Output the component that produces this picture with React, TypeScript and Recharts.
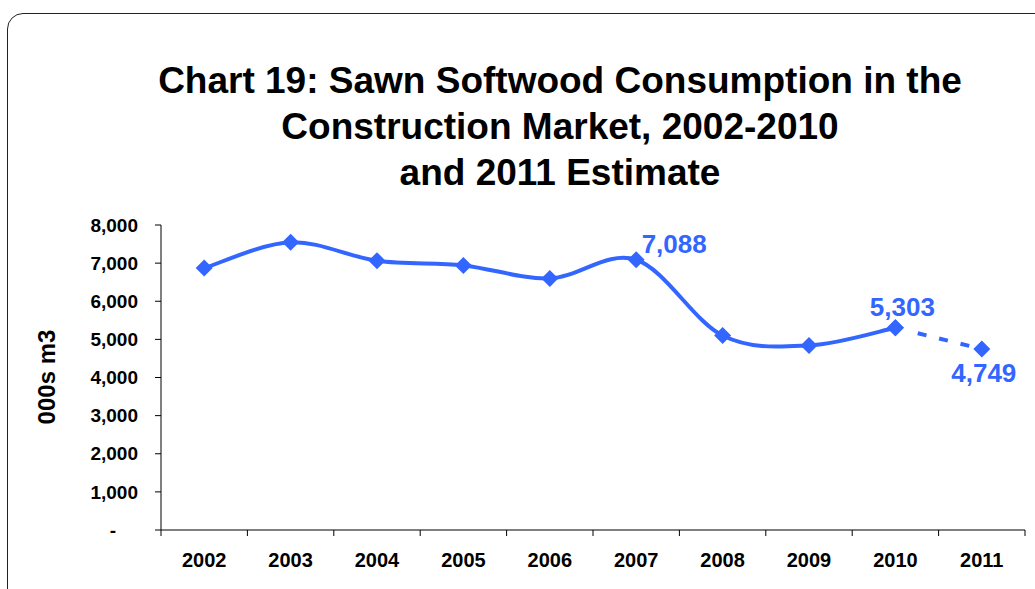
import { LineChart, Line, XAxis, YAxis, LabelList } from 'recharts';

const BLUE = '#3366FF';
const FONT = '"Liberation Sans", Arial, sans-serif';

const YEARS = ['2002', '2003', '2004', '2005', '2006', '2007', '2008', '2009', '2010', '2011'];
const ACTUAL = [6870, 7545, 7065, 6940, 6600, 7088, 5100, 4840, 5303, null];
const ESTIMATE = [null, null, null, null, null, null, null, null, 5303, 4749];
const Y_TICKS = [0, 1000, 2000, 3000, 4000, 5000, 6000, 7000, 8000];
const LABELLED_ACTUAL = ['2007', '2010'];
const LABELLED_ESTIMATE = ['2011'];

const data = YEARS.map((year, i) => ({ year, actual: ACTUAL[i], estimate: ESTIMATE[i] }));

const HALF_BAND = 43.2;

// Excel-like smoothed line (uniform Catmull-Rom as cubic beziers)
const smoothCurve = (context: any) => {
    let pts: number[][] = [];
    return {
        areaStart() {},
        areaEnd() {},
        lineStart() {
            pts = [];
        },
        lineEnd() {
            const n = pts.length;
            if (!n) return;
            context.moveTo(pts[0][0], pts[0][1]);
            for (let i = 0; i < n - 1; i++) {
                const p0 = pts[Math.max(i - 1, 0)];
                const p1 = pts[i];
                const p2 = pts[i + 1];
                const p3 = pts[Math.min(i + 2, n - 1)];
                context.bezierCurveTo(
                    p1[0] + (p2[0] - p0[0]) / 6,
                    p1[1] + (p2[1] - p0[1]) / 6,
                    p2[0] - (p3[0] - p1[0]) / 6,
                    p2[1] - (p3[1] - p1[1]) / 6,
                    p2[0],
                    p2[1]
                );
            }
        },
        point(x: number, y: number) {
            pts.push([+x, +y]);
        },
    };
};

const Diamond = (props: any) => {
    const { cx, cy } = props;
    if (cx == null || cy == null || props.value == null) return <g />;
    const r = 8.5;
    return <path d={`M${cx},${cy - r}L${cx + r},${cy}L${cx},${cy + r}L${cx - r},${cy}Z`} fill={BLUE} />;
};

// label offsets relative to the point
const LABEL_OFFSET: Record<string, [number, number]> = {
    '2007': [38, -7],
    '2010': [7, -12],
    '2011': [2, 33],
};

const makeLabel = (years: string[]) => (props: any) => {
    const { x, y, value, index } = props;
    const year = YEARS[index];
    if (value == null || !years.includes(year)) return null;
    const [dx, dy] = LABEL_OFFSET[year] || [0, -10];
    return (
        <text x={x + dx} y={y + dy} textAnchor="middle" fill={BLUE} fontSize={26} fontWeight="bold" fontFamily={FONT}>
            {Number(value).toLocaleString('en-US')}
        </text>
    );
};

const YTick = (props: any) => {
    const { x, y, payload } = props;
    const isZero = payload.value === 0;
    return (
        <g>
            <line x1={x - 6} x2={x} y1={y} y2={y} stroke="#000" />
            <text x={isZero ? x - 45 : x - 23} y={y} dy="0.35em" textAnchor="end" fontSize={19} fontWeight="bold" fontFamily={FONT} fill="#000">
                {isZero ? '-' : payload.value.toLocaleString('en-US')}
            </text>
        </g>
    );
};

const XTick = (props: any) => {
    const { x, y, payload, index } = props;
    const last = index === YEARS.length - 1;
    return (
        <g>
            <line x1={x - HALF_BAND} x2={x - HALF_BAND} y1={y} y2={y + 6} stroke="#000" />
            {last && <line x1={x + HALF_BAND} x2={x + HALF_BAND} y1={y} y2={y + 6} stroke="#000" />}
            <text x={x} y={y + 37} textAnchor="middle" fontSize={20} fontWeight="bold" fontFamily={FONT} fill="#000">
                {payload.value}
            </text>
        </g>
    );
};

const YLabel = () => (
    <text
        x={46}
        y={377}
        transform="rotate(-90 46 377)"
        textAnchor="middle"
        dominantBaseline="central"
        fontSize={24}
        fontWeight="bold"
        fontFamily={FONT}
        fill="#000"
    >
        000s m3
    </text>
);

export default function App() {
    return (
        <div style={{ position: 'absolute', left: 0, top: 0, width: 1035, height: 589, overflow: 'hidden', background: '#fff' }}>
            <div
                style={{
                    position: 'absolute',
                    left: 7,
                    top: 13,
                    width: 1045,
                    height: 592,
                    border: '1.5px solid #222',
                    borderRadius: 16,
                    boxSizing: 'border-box',
                }}
            />
            <div
                style={{
                    position: 'absolute',
                    left: 100,
                    top: 58,
                    width: 920,
                    textAlign: 'center',
                    fontFamily: FONT,
                    fontWeight: 'bold',
                    fontSize: 37,
                    lineHeight: '46px',
                    color: '#000',
                    whiteSpace: 'nowrap',
                }}
            >
                <div>Chart 19: Sawn Softwood Consumption in the</div>
                <div>Construction Market, 2002-2010</div>
                <div>and 2011 Estimate</div>
            </div>
            <div style={{ position: 'absolute', left: 0, top: 0 }}>
                <LineChart width={1035} height={589} data={data} margin={{ top: 225, right: 10, bottom: 0, left: 0 }}>
                    <XAxis
                        dataKey="year"
                        height={59}
                        padding={{ left: HALF_BAND, right: HALF_BAND }}
                        tickSize={0}
                        tickMargin={0}
                        tickLine={false}
                        axisLine={{ stroke: '#000' }}
                        tick={<XTick />}
                        interval={0}
                    />
                    <YAxis
                        width={161}
                        domain={[0, 8000]}
                        ticks={Y_TICKS}
                        tickSize={0}
                        tickMargin={0}
                        tickLine={false}
                        axisLine={{ stroke: '#000' }}
                        tick={<YTick />}
                        label={<YLabel />}
                    />
                    <Line
                        dataKey="actual"
                        type={smoothCurve as any}
                        stroke={BLUE}
                        strokeWidth={4}
                        dot={(p: any) => <Diamond key={`a-${p.index}`} {...p} />}
                        activeDot={false}
                        isAnimationActive={false}
                    >
                        <LabelList dataKey="actual" content={makeLabel(LABELLED_ACTUAL)} />
                    </Line>
                    <Line
                        dataKey="estimate"
                        type="linear"
                        stroke={BLUE}
                        strokeWidth={4}
                        strokeDasharray="0 23 9 13 9 13 9 13"
                        dot={(p: any) => <Diamond key={`e-${p.index}`} {...p} />}
                        activeDot={false}
                        isAnimationActive={false}
                    >
                        <LabelList dataKey="estimate" content={makeLabel(LABELLED_ESTIMATE)} />
                    </Line>
                </LineChart>
            </div>
        </div>
    );
}
